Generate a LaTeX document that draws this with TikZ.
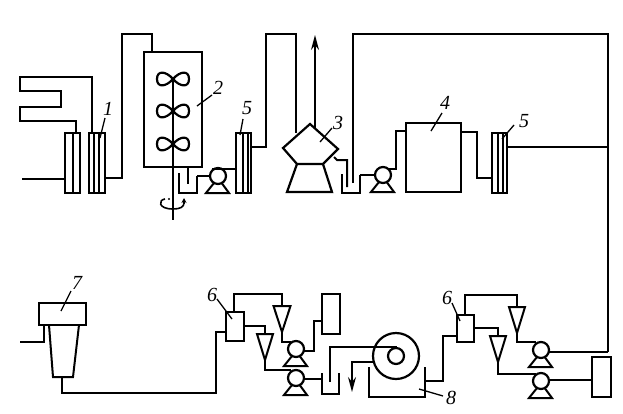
\documentclass[tikz,border=0pt]{standalone}
\usepackage{fontspec}
\setmainfont{Liberation Serif}
\usetikzlibrary{arrows.meta}
\tikzset{
  pipe/.style={line width=2pt,line join=miter,line cap=butt},
  equip/.style={draw,line width=2.2pt,rectangle,inner sep=0pt,outer sep=0pt,fill=white},
  pumpc/.style={draw,line width=2.2pt,circle,inner sep=0pt,outer sep=0pt,minimum size=16pt,fill=white},
  num/.style={font=\itshape\fontsize{20}{20}\selectfont,inner sep=0pt,text=black},
  leader/.style={line width=1.3pt}
}
\newcommand{\eqbox}[5]{\node[equip,minimum width=#4 pt,minimum height=#5 pt] (#1) at (#2,#3) {};}
\newcommand{\pumpat}[3]{% name cx cy
  \draw[pipe] (#2-12,#3+17) -- (#2+11,#3+17) -- (#2,#3+2) -- cycle;
  \node[pumpc] (#1) at (#2,#3) {};}
\newcommand{\conedown}[5]{% name cx ytop ytip halfwidth
  \coordinate (#1-top) at (#2,#3);
  \coordinate (#1-tip) at (#2,#4);
  \draw[pipe] (#2-#5,#3) -- (#2+#5,#3) -- (#1-tip) -- cycle;}
\newcommand{\impeller}[2]{%
  \draw[line width=2.2pt] (#1,#2) .. controls (#1-7,#2-8) and (#1-16,#2-9) .. (#1-16,#2)
     .. controls (#1-16,#2+9) and (#1-7,#2+8) .. (#1,#2)
     .. controls (#1+7,#2-8) and (#1+16,#2-9) .. (#1+16,#2)
     .. controls (#1+16,#2+9) and (#1+7,#2+8) .. (#1,#2);}
\begin{document}
\begin{tikzpicture}[x=1pt,y=-1pt]
\useasboundingbox (0,0) rectangle (623,413);
\fill[white] (0,0) rectangle (623,413);

% --- top row equipment
\eqbox{hxA}{72.5}{163}{15}{60}
\draw[pipe] (73,133) -- (73,193);
\eqbox{hxB}{97}{163}{16}{60}
\draw[pipe] (94,133) -- (94,193) (99,133) -- (99,193);
\eqbox{vessel}{173}{109.5}{58}{115}
\eqbox{hxC}{243.5}{163}{15}{60}
\draw[pipe] (243,133) -- (243,193) (248,133) -- (248,193);
\eqbox{tankD}{433.5}{157.5}{55}{69}
\eqbox{hxE}{499.5}{163}{15}{60}
\draw[pipe] (498,133) -- (498,193) (503,133) -- (503,193);

% feed lines
\coordinate (feedA) at (22,179);
\coordinate (feedB) at (20,77);
\draw[pipe] (feedA) -- (hxA.west |- 0,179);
\draw[pipe] (hxB.north -| 92,0) -- (92,77) -- (feedB) -- (20,91) -- (61,91) -- (61,107) -- (20,107) -- (20,121) -- (76,121) -- (76,133);
\draw[pipe] (hxB.east |- 0,178) -- (122,178) -- (122,34) -- (152,34) -- (vessel.north -| 152,0);

% shaft and impellers
\coordinate (shaftend) at (173,220);
\draw[pipe] (173,79) -- (shaftend);
\impeller{173}{79}
\impeller{173}{111}
\impeller{173}{144}
\draw[line width=1.6pt] (165,199) .. controls (158,200) and (158,209) .. (173,209) .. controls (180,209) and (184,207) .. (184,203);
\draw[line width=1.2pt,-{Stealth[length=5pt,width=5pt]}] (184,204) -- (184,198);
\fill (169,199) circle (1.2pt);

% trough and pump 1
\draw[pipe] (179,173) -- (179,193) -- (197,193) -- (197,176);
\draw[pipe] (vessel.south -| 188,0) -- (188,184);
\pumpat{pumpA}{218}{176}
\draw[pipe] (197,176) -- (pumpA.west);
\draw[pipe] (212,169) -- (hxC.west |- 0,169);
\draw[pipe] (hxC.east |- 0,147) -- (266,147) -- (266,34) -- (296,34) -- (296,133);

% dryer
\draw[line width=2.2pt] (283,148) -- (310,124) -- (338,149) -- (323,164) -- (297,164) -- cycle;
\draw[line width=2.2pt] (297,164) -- (287,192) -- (332,192) -- (323,164);
\coordinate (ventend) at (315,35);
\draw[line width=1.3pt,-{Stealth[length=15pt,width=8pt]}] (315,129) -- (ventend);
\draw[pipe] (334,157) -- (337,160) -- (347,160) -- (347,187);
\draw[pipe] (342,174) -- (342,193) -- (360,193) -- (360,175);

% pump 2, tank 4
\pumpat{pumpB}{383}{175}
\draw[pipe] (360,175) -- (pumpB.west);
\draw[pipe] (389,169) -- (396,169) -- (396,131) -- (tankD.west |- 0,131);
\draw[pipe] (tankD.east |- 0,132) -- (477,132) -- (477,178) -- (hxE.west |- 0,178);
\draw[pipe] (hxE.east |- 0,147) -- (608,147);

% long recycle
\coordinate (retn) at (608,352);
\draw[pipe] (353,183) -- (353,34) -- (608,34) -- (retn);

% --- bottom row
\eqbox{filterhead}{62.5}{314}{47}{22}
\draw[pipe] (20,342) -- (44,342) -- (filterhead.south -| 44,0);
\draw[pipe] (49,325) -- (53,377) -- (73,377) -- (79,325);
\eqbox{sepA}{235}{326.5}{18}{29}
\draw[pipe] (62,377) -- (62,393) -- (216,393) -- (216,332) -- (sepA.west |- 0,332);

\conedown{coneA}{282}{306}{332}{8.5}
\conedown{coneB}{265}{334}{360}{8}
\draw[pipe] (234,312) -- (234,294) -- (282,294) -- (coneA-top);
\draw[pipe] (sepA.east |- 0,326) -- (265,326) -- (coneB-top);
\draw[pipe] (coneA-tip) -- (282,342) -- (291,342);
\draw[pipe] (coneB-tip) -- (265,370) -- (291,370);
\pumpat{pumpC}{296}{349}
\pumpat{pumpD}{296}{378}
\eqbox{boxF}{331}{314}{18}{40}
\draw[pipe] (pumpC.east |- 0,351) -- (314,351) -- (314,321) -- (boxF.west |- 0,321);
\draw[pipe] (pumpD.east |- 0,379) -- (322,379);
\draw[pipe] (322,373) -- (322,394) -- (339,394) -- (339,373);

% drum
\node[draw,line width=2.2pt,circle,inner sep=0pt,minimum size=46pt] (drum) at (396,356) {};
\node[draw,line width=2.2pt,circle,inner sep=0pt,minimum size=16pt] (drumcore) at (396,356) {};
\draw[pipe] (330,382) -- (330,347) -- (397,347);
\coordinate (prod) at (352,392);
\draw[pipe] (373,362) -- (352,362) -- (352,380);
\draw[line width=1.3pt,-{Stealth[length=15pt,width=8pt]}] (352,375) -- (prod);
\draw[pipe] (369,367) -- (369,397) -- (425,397) -- (425,367);

\eqbox{sepB}{465.5}{328.5}{17}{27}
\draw[pipe] (425,381) -- (443,381) -- (443,336) -- (sepB.west |- 0,336);
\conedown{coneC}{517}{307}{333}{8}
\conedown{coneD}{498}{336}{362}{8}
\draw[pipe] (465,315) -- (465,295) -- (517,295) -- (coneC-top);
\draw[pipe] (sepB.east |- 0,328) -- (498,328) -- (coneD-top);
\draw[pipe] (coneC-tip) -- (517,342) -- (536,342);
\draw[pipe] (coneD-tip) -- (498,374) -- (536,374);
\pumpat{pumpE}{541}{350}
\pumpat{pumpG}{541}{381}
\draw[pipe] (pumpE.east |- 0,352) -- (retn);
\eqbox{boxH}{601.5}{377}{19}{40}
\draw[pipe] (pumpG.east |- 0,380) -- (boxH.west |- 0,380);

% --- labels and leaders
\node[num] (l1) at (108,109) {1};
\draw[leader] (105,118) -- (100,138);
\node[num] (l2) at (218,88) {2};
\draw[leader] (212,95) -- (197,106);
\node[num] (l5a) at (247,108) {5};
\draw[leader] (243,119) -- (240,135);
\node[num] (l3) at (338,123) {3};
\draw[leader] (332,128) -- (320,142);
\node[num] (l4) at (445,103) {4};
\draw[leader] (442,113) -- (431,131);
\node[num] (l5b) at (524,121) {5};
\draw[leader] (514,125) -- (502,139);
\node[num] (l7) at (77,283) {7};
\draw[leader] (71,291) -- (61,311);
\node[num] (l6a) at (212,295) {6};
\draw[leader] (217,299) -- (232,319);
\node[num] (l6b) at (447,298) {6};
\draw[leader] (452,303) -- (460,321);
\node[num] (l8) at (451,398) {8};
\draw[leader] (443,396) -- (419,389);
\end{tikzpicture}
\end{document}
